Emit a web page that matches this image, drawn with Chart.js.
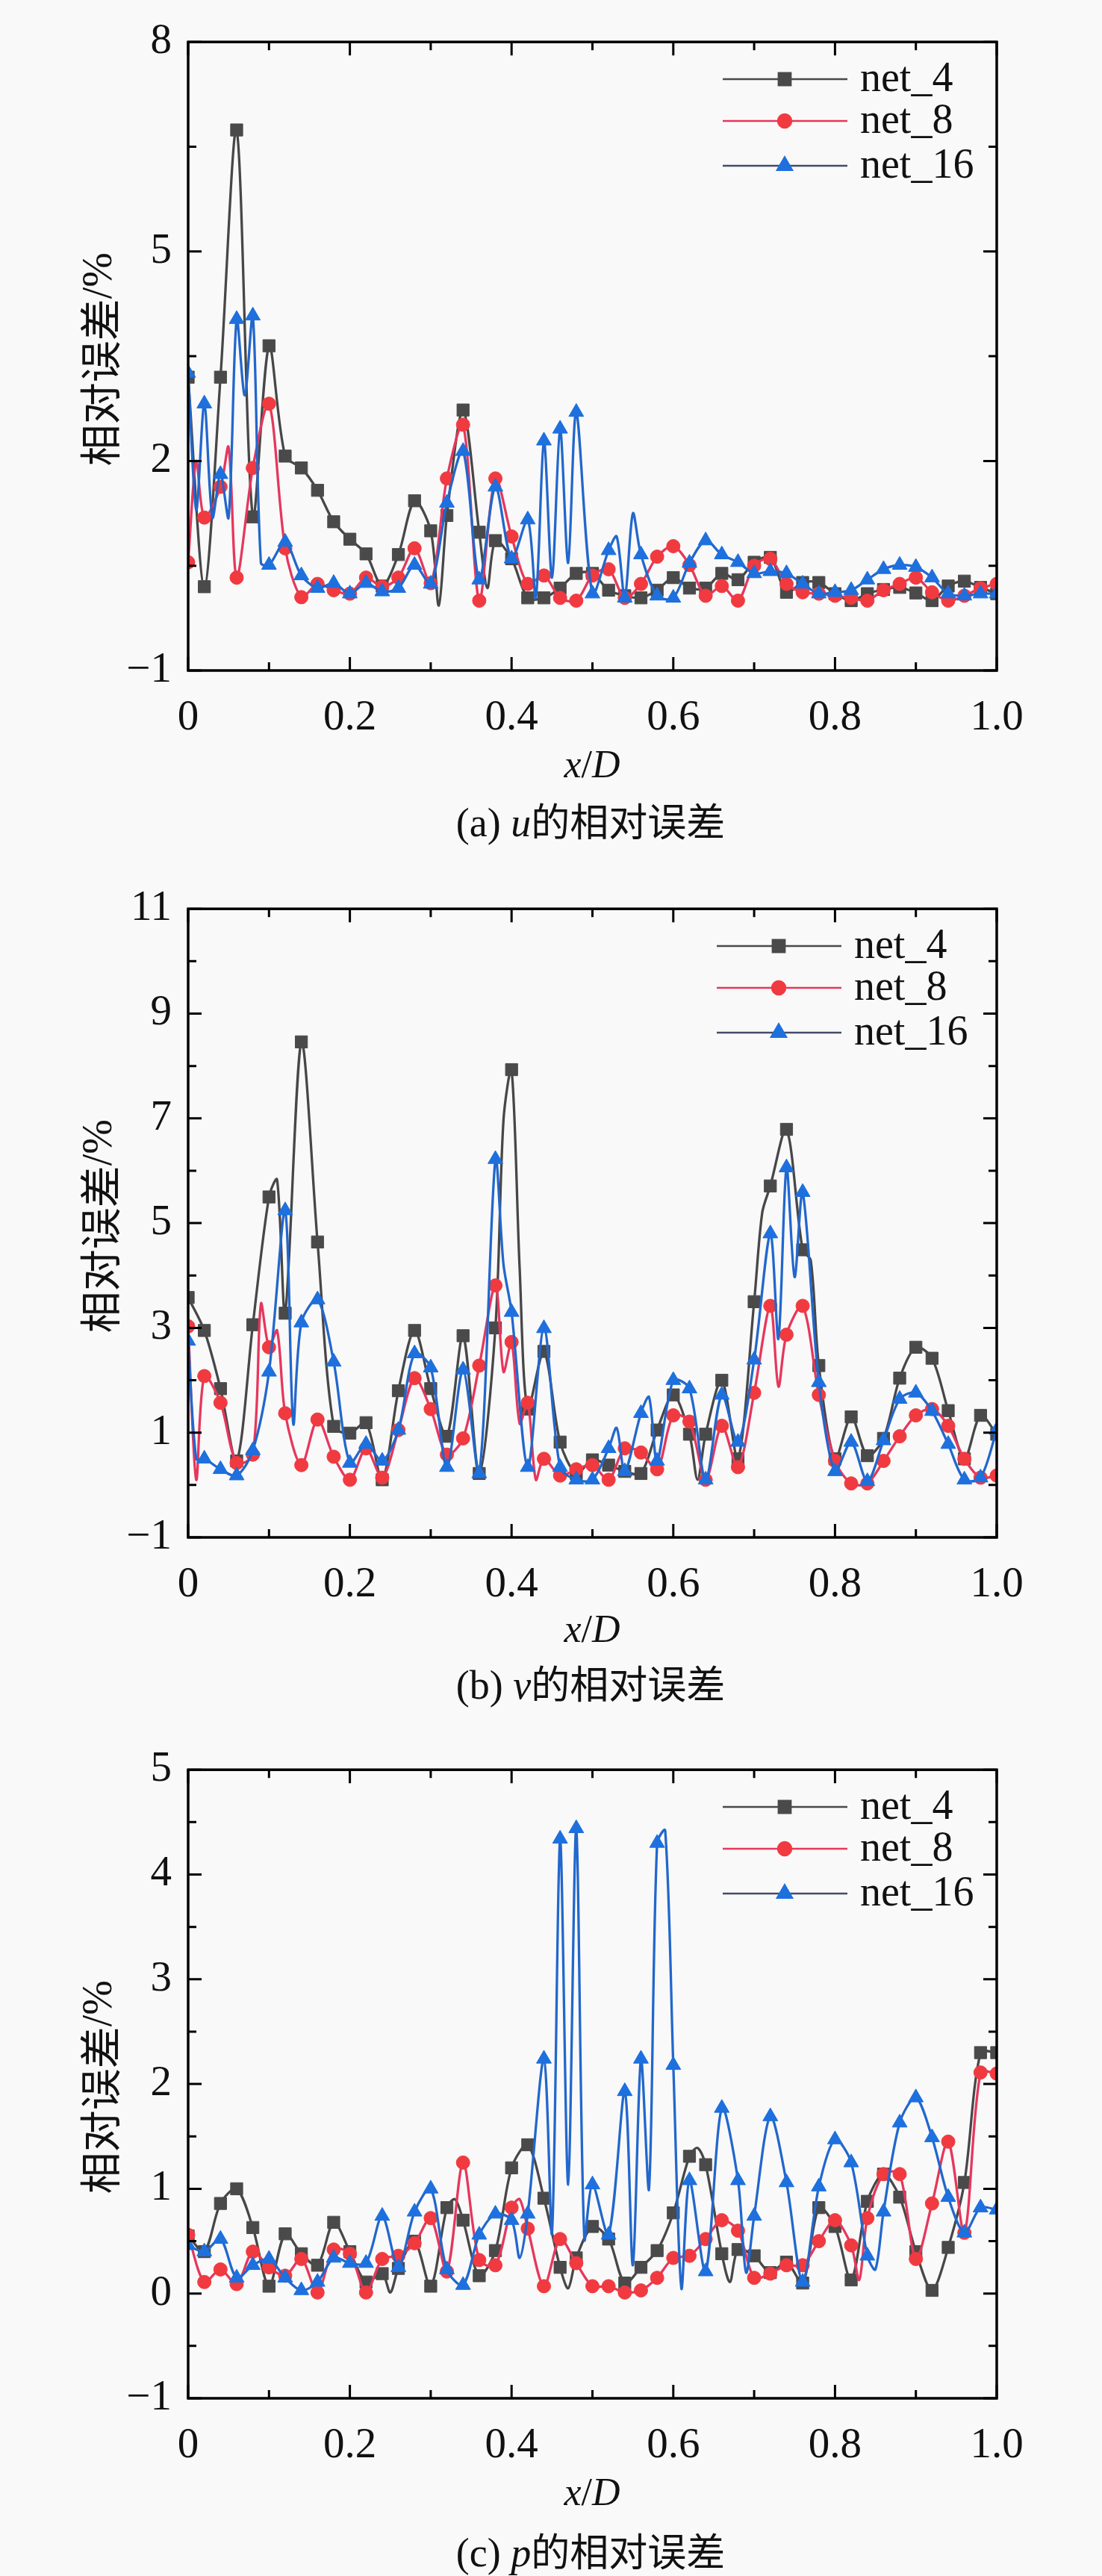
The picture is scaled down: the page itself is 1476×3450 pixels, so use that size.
<!DOCTYPE html>
<html><head><meta charset="utf-8">
<script src="https://cdn.jsdelivr.net/npm/chart.js@4.4.1/dist/chart.umd.min.js"></script>
<style>
html,body{margin:0;padding:0;background:#f9f9f9;}
#wrap{position:relative;width:1476px;height:3450px;overflow:hidden;}
.panel{position:absolute;left:0;width:1476px;}
canvas{display:block;}
</style></head><body>
<div id="wrap">
<div class="panel" style="top:0;height:1161px"><canvas id="c1"></canvas></div>
<div class="panel" style="top:1161px;height:1153px"><canvas id="c2"></canvas></div>
<div class="panel" style="top:2314px;height:1136px"><canvas id="c3"></canvas></div>
</div>
<script>
// ---------- data ----------
const seriesNames = ['net_4', 'net_8', 'net_16'];
const xStep = 0.02;               // marker spacing along x/D
const xTickValues = [0, 0.2, 0.4, 0.6, 0.8, 1.0];
const xTickLabels = ['0', '0.2', '0.4', '0.6', '0.8', '1.0'];
const xMinorTicks = [0.1, 0.3, 0.5, 0.7, 0.9];

// (a) u
const uTicks = [-1, 2, 5, 8];
const uMinor = [0.5, 3.5, 6.5];
const u_net4 = [3.2,0.2,3.2,6.74,1.2,3.65,2.07,1.9,1.58,1.13,0.88,0.67,0.21,0.66,1.43,1.0,1.22,2.73,0.98,0.86,0.6,0.04,0.04,0.18,0.39,0.39,0.15,0.07,0.04,0.15,0.33,0.18,0.18,0.39,0.3,0.55,0.62,0.12,0.26,0.26,0.1,0.0,0.1,0.16,0.19,0.11,0.0,0.21,0.28,0.19,0.1];
const u_net4_mid = [[0.31,-0.07],[0.37,0.18]];
const u_net8 = [0.55,1.19,1.63,0.33,1.9,2.82,0.75,0.05,0.24,0.15,0.1,0.33,0.2,0.33,0.75,0.25,1.75,2.52,0.0,1.75,0.92,0.24,0.36,0.04,0.0,0.36,0.45,0.04,0.24,0.63,0.78,0.51,0.07,0.21,0.0,0.5,0.6,0.24,0.12,0.1,0.07,0.04,0.0,0.15,0.24,0.33,0.12,0.0,0.07,0.18,0.24];
const u_net8_mid = [[0.01,2.0],[0.05,2.2]];
const u_net16 = [3.26,2.82,1.81,4.03,4.08,0.51,0.84,0.36,0.18,0.25,0.1,0.25,0.13,0.18,0.51,0.24,1.4,2.14,0.3,1.63,0.6,1.16,2.29,2.46,2.7,0.1,0.72,0.04,0.66,0.07,0.04,0.54,0.86,0.66,0.55,0.39,0.42,0.39,0.24,0.1,0.12,0.15,0.3,0.45,0.51,0.48,0.33,0.1,0.07,0.1,0.1];
const u_net16_mid = [[0.01,1.3],[0.03,1.19],[0.05,1.19],[0.07,2.94],[0.09,0.54],[0.43,0.04],[0.45,0.33],[0.47,0.54],[0.53,0.92],[0.55,1.25]];

// (b) v
const vTicks = [-1, 1, 3, 5, 7, 9, 11];
const vMinor = [0, 2, 4, 6, 8, 10];
const v_net4 = [3.58,2.95,1.84,0.46,3.06,5.5,3.28,8.46,4.64,1.12,0.99,1.19,0.1,1.8,2.95,1.84,0.93,2.85,0.22,3.0,7.93,1.45,2.55,0.82,0.22,0.48,0.38,0.26,0.22,1.05,1.72,0.97,0.97,2.0,0.5,3.5,5.71,6.79,4.49,2.28,0.5,1.3,0.56,0.89,2.04,2.63,2.42,1.42,0.5,1.33,0.97];
const v_net4_mid = [[0.11,5.83],[0.39,6.97],[0.41,4.13],[0.63,0.1],[0.71,5.2],[0.77,4.29]];
const v_net8 = [3.03,2.08,1.57,0.42,0.58,2.63,1.37,0.38,1.25,0.54,0.1,0.7,0.14,1.05,2.04,1.45,0.58,0.89,2.28,3.81,2.73,1.57,0.5,0.18,0.3,0.38,0.1,0.7,0.62,0.3,1.33,1.21,0.1,1.13,0.34,1.76,3.42,2.87,3.42,1.72,0.46,0.03,0.03,0.46,0.93,1.33,1.45,1.13,0.5,0.14,0.18];
const v_net8_mid = [[0.01,0.1],[0.09,3.46],[0.11,2.95],[0.39,2.16],[0.41,1.17],[0.43,0.1],[0.73,1.88]];
const v_net16 = [2.75,0.5,0.3,0.18,0.66,2.16,5.24,3.1,3.54,2.35,0.42,0.78,0.46,1.05,2.51,2.24,0.34,2.2,0.22,6.22,3.3,0.34,2.99,0.34,0.1,0.1,0.7,0.26,1.37,0.46,2.0,1.84,0.1,1.72,0.82,2.39,4.8,6.06,5.59,1.96,0.26,0.82,0.07,0.85,1.64,1.76,1.41,0.78,0.1,0.14,1.05];
const v_net16_mid = [[0.01,0.5],[0.13,1.17],[0.39,4.21],[0.53,1.09],[0.57,1.68],[0.73,2.79],[0.75,3.97]];

// (c) p
const pTicks = [-1, 0, 1, 2, 3, 4, 5];
const pMinor = [-0.5, 0.5, 1.5, 2.5, 3.5, 4.5];
const p_net4 = [0.55,0.4,0.86,1.0,0.63,0.07,0.57,0.38,0.27,0.68,0.4,0.11,0.19,0.24,0.5,0.07,0.82,0.7,0.17,0.41,1.2,1.42,0.91,0.25,0.34,0.64,0.52,0.1,0.25,0.41,0.77,1.31,1.23,0.38,0.42,0.36,0.2,0.3,0.1,0.82,0.64,0.13,0.88,1.14,0.92,0.4,0.03,0.44,1.06,2.3,2.3];
const p_net4_mid = [[0.25,0.01],[0.33,0.9],[0.47,0.05],[0.63,1.39],[0.67,0.11]];
const p_net8 = [0.56,0.11,0.23,0.09,0.4,0.25,0.17,0.33,0.01,0.42,0.38,0.01,0.33,0.36,0.48,0.72,0.21,1.25,0.32,0.27,0.82,0.62,0.07,0.52,0.29,0.07,0.07,0.01,0.03,0.15,0.34,0.36,0.52,0.7,0.6,0.15,0.19,0.27,0.27,0.5,0.7,0.46,0.72,1.14,1.14,0.33,0.86,1.45,0.58,2.11,2.1];
const p_net8_mid = [[0.41,0.9],[0.83,0.13]];
const p_net16 = [0.46,0.4,0.52,0.15,0.27,0.33,0.15,0.03,0.11,0.34,0.29,0.29,0.74,0.25,0.78,1.0,0.23,0.08,0.56,0.76,0.7,0.76,2.24,4.34,4.44,1.04,0.56,1.93,2.24,4.3,2.18,1.08,0.21,1.77,1.08,0.74,1.69,1.06,0.11,1.02,1.47,1.25,0.36,0.78,1.63,1.87,1.49,0.92,0.58,0.82,0.8];
const p_net16_mid = [[0.41,0.34],[0.45,0.58],[0.47,1.04],[0.49,0.52],[0.55,0.27],[0.57,1.0],[0.59,4.42],[0.61,0.05],[0.69,0.2],[0.85,0.23]];

// ---------- styles ----------
const SERIF = '"Times New Roman", "Liberation Serif", Tinos, "DejaVu Serif", serif';
const CJK = '"Noto Sans CJK SC", "Noto Sans CJK JP", sans-serif';
const TEXT = '#111';
const styles = [
  {line:'#474747', fill:'#4a4a4a', legendLine:'#4a4a4a', pointStyle:'rect', radius:11.5},
  {line:'#e6375c', fill:'#f03a40', legendLine:'#e6375c', pointStyle:'circle', radius:9},
  {line:'#2267cc', fill:'#1d70de', legendLine:'#454b68', pointStyle:'triangle', radius:11.5}
];

function build(vals, mid) {
  const pts = vals.map((v, i) => ({x: +(i * xStep).toFixed(2), y: v, m: true}));
  mid.forEach(([x, y]) => pts.push({x: x, y: y, m: false}));
  pts.sort((a, b) => a.x - b.x);
  return pts;
}

function drawRuns(ctx, runs, cx, y) {
  let total = 0;
  runs.forEach(r => { ctx.font = r.f; r.w = ctx.measureText(r.t).width; total += r.w; });
  let x = cx - total / 2;
  ctx.textAlign = 'left';
  runs.forEach(r => { ctx.font = r.f; ctx.fillText(r.t, x, y); x += r.w; });
}

const bgPlugin = {
  id: 'bg',
  beforeDraw(chart) {
    const c = chart.ctx; c.save(); c.fillStyle = '#f9f9f9';
    c.fillRect(0, 0, chart.width, chart.height); c.restore();
  }
};

const framePlugin = {
  id: 'frame',
  afterDraw(chart, args, o) {
    const ctx = chart.ctx, a = chart.chartArea, xs = chart.scales.x, ys = chart.scales.y;
    ctx.save();
    ctx.strokeStyle = '#000'; ctx.lineWidth = 3.5; ctx.lineCap = 'butt';
    ctx.strokeRect(a.left, a.top, a.right - a.left, a.bottom - a.top);
    ctx.lineWidth = 3;
    const big = 18, small = 11;
    const xt = (v, L) => { const p = xs.getPixelForValue(v);
      ctx.beginPath(); ctx.moveTo(p, a.bottom); ctx.lineTo(p, a.bottom - L);
      ctx.moveTo(p, a.top); ctx.lineTo(p, a.top + L); ctx.stroke(); };
    const yt = (v, L) => { const p = ys.getPixelForValue(v);
      ctx.beginPath(); ctx.moveTo(a.left, p); ctx.lineTo(a.left + L, p);
      ctx.moveTo(a.right, p); ctx.lineTo(a.right - L, p); ctx.stroke(); };
    xTickValues.forEach(v => xt(v, big));
    xMinorTicks.forEach(v => xt(v, small));
    o.yMajor.forEach(v => yt(v, big));
    o.yMinor.forEach(v => yt(v, small));

    // legend
    const rows = [106, 162, 222];
    seriesNames.forEach((name, i) => {
      const s = styles[i], y = rows[i];
      ctx.strokeStyle = s.legendLine; ctx.lineWidth = 2.5;
      ctx.beginPath(); ctx.moveTo(o.legX, y); ctx.lineTo(o.legX + 167, y); ctx.stroke();
      ctx.fillStyle = s.fill; ctx.strokeStyle = s.fill;
      Chart.helpers.drawPoint(ctx, {pointStyle: s.pointStyle, radius: s.radius, rotation: 0, borderWidth: 1}, o.legX + 83, y);
      ctx.fillStyle = TEXT; ctx.font = '56px ' + SERIF; ctx.textAlign = 'left'; ctx.textBaseline = 'alphabetic';
      ctx.fillText(name, o.legX + 184, y + 16);
    });

    // y title
    ctx.save();
    ctx.translate(134, (a.top + a.bottom) / 2 + 4);
    ctx.rotate(-Math.PI / 2);
    ctx.fillStyle = TEXT; ctx.textBaseline = 'middle';
    drawRuns(ctx, [{t:'相对误差', f:'56px ' + CJK}, {t:'/%', f:'56px ' + SERIF}], 0, 0);
    ctx.restore();

    // x title
    ctx.fillStyle = TEXT; ctx.textBaseline = 'alphabetic';
    drawRuns(ctx, [{t:'x', f:'italic 52px ' + SERIF}, {t:'/', f:'52px ' + SERIF}, {t:'D', f:'italic 52px ' + SERIF}], 793, o.xTitleY);
    // caption
    drawRuns(ctx, [{t:o.cap[0], f:'54px ' + SERIF}, {t:o.cap[1], f:'italic 54px ' + SERIF}, {t:o.cap[2], f:'52px ' + CJK}], 791, o.capY);
    ctx.restore();
  }
};

function makeChart(id, yMin, yMax, yMajor, yMinor, sets, cap, legX, capY, xTitleY) {
  const canvas = document.getElementById(id);
  const H = canvas.parentNode.clientHeight;
  const datasets = sets.map((d, i) => {
    const s = styles[i];
    return {
      label: seriesNames[i], data: d, order: 2 - i,
      borderColor: s.line, borderWidth: 3.3, tension: 0.3,
      pointStyle: s.pointStyle, pointBackgroundColor: s.fill, pointBorderColor: s.fill,
      pointBorderWidth: 1,
      pointRadius: c => (c.raw && c.raw.m) ? s.radius : 0,
      clip: 0
    };
  });
  return new Chart(canvas, {
    type: 'line',
    data: {datasets},
    plugins: [bgPlugin, framePlugin],
    options: {
      responsive: true, maintainAspectRatio: false, animation: false, devicePixelRatio: 1,
      layout: {padding: {left: 0, right: 141, top: 26, bottom: 0}},
      plugins: {legend: {display: false}, tooltip: {enabled: false},
        frame: {yMajor, yMinor, cap, legX, capY, xTitleY}},
      scales: {
        x: {type: 'linear', min: 0, max: 1,
          afterBuildTicks: s => { s.ticks = xTickValues.map(v => ({value: v})); },
          ticks: {font: {family: SERIF, size: 57}, color: TEXT, padding: 30, maxRotation: 0,
            callback: (v, i) => xTickLabels[i]},
          grid: {display: false, drawTicks: false}, border: {display: false},
          afterFit: s => { s.height = H - 898; }},
        y: {type: 'linear', min: yMin, max: yMax,
          afterBuildTicks: s => { s.ticks = yMajor.map(v => ({value: v})); },
          ticks: {font: {family: SERIF, size: 57}, color: TEXT, padding: 22,
            callback: v => v < 0 ? '\u2212' + Math.abs(v) : String(v)},
          grid: {display: false, drawTicks: false}, border: {display: false},
          afterFit: s => { s.width = 252; }}
      }
    }
  });
}

makeChart('c1', -1, 8, uTicks, uMinor,
  [build(u_net4, u_net4_mid), build(u_net8, u_net8_mid), build(u_net16, u_net16_mid)],
  ['(a) ', 'u', '的相对误差'], 968, 1120, 1041);
makeChart('c2', -1, 11, vTicks, vMinor,
  [build(v_net4, v_net4_mid), build(v_net8, v_net8_mid), build(v_net16, v_net16_mid)],
  ['(b) ', 'v', '的相对误差'], 960, 1114, 1038);
makeChart('c3', -1, 5, pTicks, pMinor,
  [build(p_net4, p_net4_mid), build(p_net8, p_net8_mid), build(p_net16, p_net16_mid)],
  ['(c) ', 'p', '的相对误差'], 968, 1123, 1041);
</script>
</body></html>
